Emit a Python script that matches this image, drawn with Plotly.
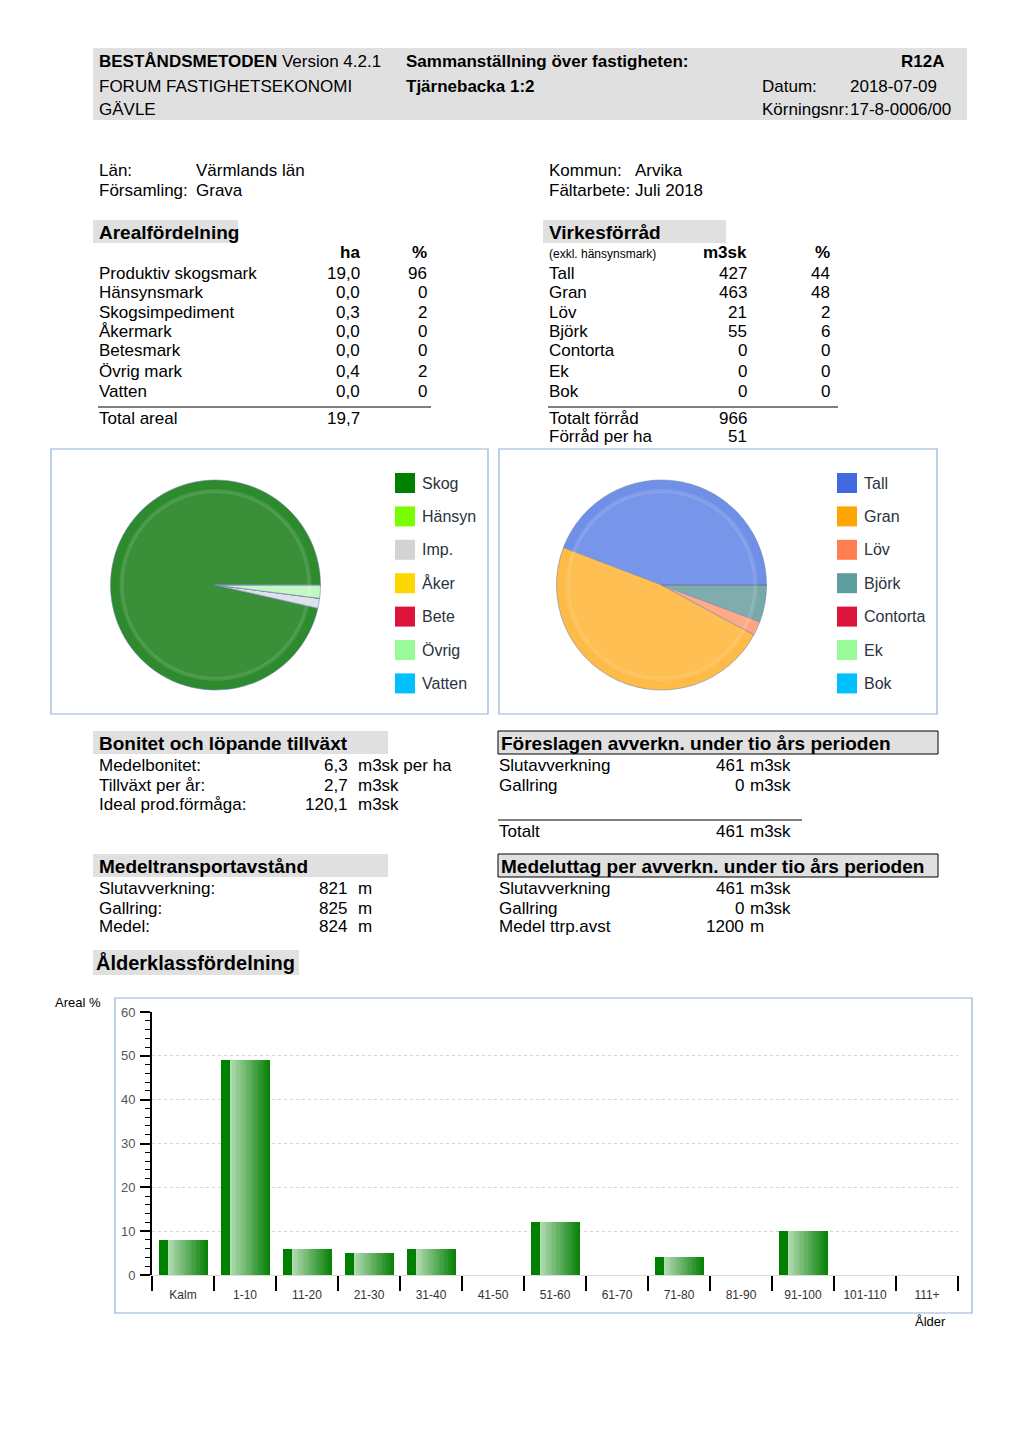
import plotly.graph_objects as go

W, H = 1024, 1448          # reference page size
OFF = 8                    # page body margin
FW, FH = W - OFF, H - OFF  # figure size
FONT = "Liberation Sans, Arial, sans-serif"

# ---------------- data ----------------
areal_labels = ["Produktiv skogsmark", "Hänsynsmark", "Skogsimpediment", "Åkermark",
                "Betesmark", "Övrig mark", "Vatten"]
areal_ha = [19.0, 0.0, 0.3, 0.0, 0.0, 0.4, 0.0]
areal_pct = [96, 0, 2, 0, 0, 2, 0]
areal_total = 19.7

virke_labels = ["Tall", "Gran", "Löv", "Björk", "Contorta", "Ek", "Bok"]
virke_m3sk = [427, 463, 21, 55, 0, 0, 0]
virke_pct = [44, 48, 2, 6, 0, 0, 0]
virke_total = 966
virke_per_ha = 51

pie1_labels = ["Skog", "Hänsyn", "Imp.", "Åker", "Bete", "Övrig", "Vatten"]
pie1_legend_colors = ["#008000", "#7cfc00", "#d3d3d3", "#ffd700", "#dc143c", "#98fb98", "#00bfff"]
pie1_slice_colors = ["#2d8a2d", "#a0fc60", "#dde1e8", "#ffe060", "#e04a66", "#c2f7c2", "#5cd2ff"]

pie2_labels = ["Tall", "Gran", "Löv", "Björk", "Contorta", "Ek", "Bok"]
pie2_legend_colors = ["#4169e1", "#ffa500", "#ff7f50", "#5f9ea0", "#dc143c", "#98fb98", "#00bfff"]
pie2_slice_colors = ["#7090e8", "#ffbb48", "#ffa482", "#78a8a8", "#e04a66", "#c2f7c2", "#5cd2ff"]

bonitet_labels = ["Medelbonitet:", "Tillväxt per år:", "Ideal prod.förmåga:"]
bonitet_values = ["6,3", "2,7", "120,1"]
bonitet_units = ["m3sk per ha", "m3sk", "m3sk"]

transport_labels = ["Slutavverkning:", "Gallring:", "Medel:"]
transport_values = [821, 825, 824]

foreslagen_labels = ["Slutavverkning", "Gallring"]
foreslagen_values = [461, 0]
foreslagen_total = 461

uttag_labels = ["Slutavverkning", "Gallring", "Medel ttrp.avst"]
uttag_values = [461, 0, 1200]
uttag_units = ["m3sk", "m3sk", "m"]

age_classes = ["Kalm", "1-10", "11-20", "21-30", "31-40", "41-50", "51-60",
               "61-70", "71-80", "81-90", "91-100", "101-110", "111+"]
age_pct = [8, 49, 6, 5, 6, 0, 12, 0, 4, 0, 10, 0, 0]
y_ticks = [0, 10, 20, 30, 40, 50, 60]


def fmt(v):
    return f"{v:.1f}".replace(".", ",")


# ---------------- helpers (page pixel -> paper) ----------------
def px(x):
    return (x - OFF) / FW


def py(y):
    return 1 - (y - OFF) / FH


ann = []
shapes = []


def text(x, y, s, anchor="left", size=17, bold=False, color="#000"):
    if bold:
        s = f"<b>{s}</b>"
    ann.append(dict(x=px(x), y=py(y), xref="paper", yref="paper", text=s,
                    showarrow=False, xanchor=anchor, yanchor="middle",
                    borderpad=0, font=dict(size=size, color=color, family=FONT)))


def rect(x0, y0, x1, y1, fill="rgba(0,0,0,0)", line="rgba(0,0,0,0)", lw=1, layer="below"):
    shapes.append(dict(type="rect", xref="paper", yref="paper",
                       x0=px(x0), x1=px(x1), y0=py(y1), y1=py(y0),
                       fillcolor=fill, line=dict(color=line, width=lw), layer=layer))


def circle(cx, cy, r, fill, line="rgba(0,0,0,0)", lw=0):
    shapes.append(dict(type="circle", xref="paper", yref="paper",
                       x0=px(cx - r), x1=px(cx + r), y0=py(cy + r), y1=py(cy - r),
                       fillcolor=fill, line=dict(color=line, width=lw), layer="above"))


def hline(x0, x1, y, color="#000", lw=1):
    shapes.append(dict(type="line", xref="paper", yref="paper",
                       x0=px(x0), x1=px(x1), y0=py(y), y1=py(y),
                       line=dict(color=color, width=lw)))


GRAY = "#e0e0e0"

# ---------------- header ----------------
rect(93, 48, 967, 120, fill=GRAY)
text(98, 62, "<b>BESTÅNDSMETODEN</b> Version 4.2.1")
text(405, 62, "Sammanställning över fastigheten:", bold=True)
text(945, 62, "R12A", anchor="right", bold=True)
text(98, 86, "FORUM FASTIGHETSEKONOMI")
text(405, 86, "Tjärnebacka 1:2", bold=True)
text(761, 86, "Datum:")
text(849, 86, "2018-07-09")
text(98, 110, "GÄVLE")
text(761, 110, "Körningsnr:")
text(849, 110, "17-8-0006/00")

# ---------------- location ----------------
text(98, 170, "Län:")
text(195, 170, "Värmlands län")
text(98, 190, "Församling:")
text(195, 190, "Grava")
text(548, 170, "Kommun:")
text(634, 170, "Arvika")
text(548, 190, "Fältarbete:")
text(634, 190, "Juli 2018")

# ---------------- Arealfördelning ----------------
rect(93, 220, 238, 243, fill=GRAY)
text(98, 232, "Arealfördelning", size=19, bold=True)
text(361, 253, "ha", anchor="right", bold=True)
text(428, 253, "%", anchor="right", bold=True)
row_y = [273, 293, 312, 332, 351, 371, 391]
for i, lab in enumerate(areal_labels):
    text(98, row_y[i], lab)
    text(361, row_y[i], fmt(areal_ha[i]), anchor="right")
    text(428, row_y[i], str(areal_pct[i]), anchor="right")
hline(98, 431, 407)
text(98, 418, "Total areal")
text(361, 418, fmt(areal_total), anchor="right")

# ---------------- Virkesförråd ----------------
rect(543, 220, 726, 243, fill=GRAY)
text(548, 232, "Virkesförråd", size=19, bold=True)
text(548, 254, "(exkl. hänsynsmark)", size=12)
text(748, 253, "m3sk", anchor="right", bold=True)
text(831, 253, "%", anchor="right", bold=True)
for i, lab in enumerate(virke_labels):
    text(548, row_y[i], lab)
    text(748, row_y[i], str(virke_m3sk[i]), anchor="right")
    text(831, row_y[i], str(virke_pct[i]), anchor="right")
hline(548, 838, 407)
text(548, 418, "Totalt förråd")
text(748, 418, str(virke_total), anchor="right")
text(548, 437, "Förråd per ha")
text(748, 437, str(virke_per_ha), anchor="right")

# ---------------- pie panels ----------------
FRAME = "#93b1d9"
rect(51, 449, 488, 714, line=FRAME, lw=1.2, layer="above")
rect(499, 449, 937, 714, line=FRAME, lw=1.2, layer="above")

leg_y = [483 + 33.4 * i for i in range(7)]
for i, lab in enumerate(pie1_labels):
    rect(395, leg_y[i] - 10, 415, leg_y[i] + 10, fill=pie1_legend_colors[i], layer="above")
    text(421, leg_y[i], lab, size=16, color="#2a3340")
for i, lab in enumerate(pie2_labels):
    rect(837, leg_y[i] - 10, 857, leg_y[i] + 10, fill=pie2_legend_colors[i], layer="above")
    text(863, leg_y[i], lab, size=16, color="#2a3340")

PIE_R = 105
pie_centers = [(215.5, 585), (661.5, 585)]


def start_rotation(values):
    # first slice starts at 3 o'clock and slices run counter-clockwise
    return 90 - 360.0 * values[0] / sum(values)


fig = go.Figure()
for (cx, cy), labs, vals, cols in [(pie_centers[0], pie1_labels, areal_ha, pie1_slice_colors),
                                   (pie_centers[1], pie2_labels, virke_m3sk, pie2_slice_colors)]:
    fig.add_trace(go.Pie(labels=labs, values=vals, sort=False,
                         direction="counterclockwise", rotation=start_rotation(vals),
                         marker=dict(colors=cols,
                                     line=dict(color="rgba(110,130,175,0.7)", width=0.8)),
                         textinfo="none", hoverinfo="label+value", showlegend=False,
                         domain=dict(x=[px(cx - PIE_R), px(cx + PIE_R)],
                                     y=[py(cy + PIE_R), py(cy - PIE_R)])))
    # glossy inner highlight
    circle(cx, cy, PIE_R - 11, fill="rgba(255,255,255,0.06)",
           line="rgba(255,255,255,0.12)", lw=4)

# ---------------- bottom tables ----------------
rect(93, 731, 388, 754, fill=GRAY)
text(98, 743, "Bonitet och löpande tillväxt", size=19, bold=True)
for i, y in enumerate([765, 785, 804]):
    text(98, y, bonitet_labels[i])
    text(349, y, bonitet_values[i], anchor="right")
    text(357, y, bonitet_units[i])

rect(498, 731, 938, 754, fill=GRAY, line="#000", lw=1)
text(500, 743, "Föreslagen avverkn. under tio års perioden", size=19, bold=True)
for i, y in enumerate([765, 785]):
    text(498, y, foreslagen_labels[i])
    text(745, y, str(foreslagen_values[i]), anchor="right")
    text(749, y, "m3sk")
hline(498, 802, 820)
text(498, 831, "Totalt")
text(745, 831, str(foreslagen_total), anchor="right")
text(749, 831, "m3sk")

rect(93, 854, 388, 877, fill=GRAY)
text(98, 866, "Medeltransportavstånd", size=19, bold=True)
for i, y in enumerate([888, 908, 927]):
    text(98, y, transport_labels[i])
    text(348, y, str(transport_values[i]), anchor="right")
    text(357, y, "m")

rect(498, 854, 938, 877, fill=GRAY, line="#000", lw=1)
text(500, 866, "Medeluttag per avverkn. under tio års perioden", size=19, bold=True)
for i, y in enumerate([888, 908, 927]):
    text(498, y, uttag_labels[i])
    text(745, y, str(uttag_values[i]), anchor="right")
    text(749, y, uttag_units[i])

rect(93, 950, 299, 975, fill=GRAY)
text(95, 962, "Ålderklassfördelning", size=20, bold=True)

# ---------------- bar chart ----------------
rect(115, 998, 972, 1313, line=FRAME, lw=1.2, layer="above")
text(54, 1002, "Areal %", size=13)
text(914, 1321, "Ålder", size=13)

BAR_L, BAR_R = -0.395, 0.395
DARK_END = -0.25
fig.add_trace(go.Bar(x=age_classes, y=age_pct, width=DARK_END - BAR_L + 0.004, offset=BAR_L,
                     marker=dict(color="#008000", line=dict(width=0)),
                     showlegend=False, hoverinfo="x+y", xaxis="x", yaxis="y"))
N = 16
c0 = (176, 218, 176)
c1 = (12, 132, 12)
sw = (BAR_R - DARK_END) / N
for k in range(N):
    t = k / (N - 1)
    col = tuple(int(round(c0[j] + (c1[j] - c0[j]) * t)) for j in range(3))
    fig.add_trace(go.Bar(x=age_classes, y=age_pct, width=sw + 0.004, offset=DARK_END + k * sw,
                         marker=dict(color="rgb(%d,%d,%d)" % col, line=dict(width=0)),
                         showlegend=False, hoverinfo="skip", xaxis="x", yaxis="y"))

fig.update_layout(
    width=FW, height=FH, autosize=False,
    margin=dict(l=0, r=0, t=0, b=0, pad=0, autoexpand=False),
    paper_bgcolor="white", plot_bgcolor="white",
    barmode="overlay", bargap=0,
    annotations=ann, shapes=shapes,
    font=dict(family=FONT),
    xaxis=dict(domain=[px(152), px(958)], anchor="y", type="category", automargin=False,
               range=[-0.5, len(age_classes) - 0.5],
               showline=True, linecolor="#dcdcdc", linewidth=1,
               ticks="outside", tickson="boundaries", ticklen=15, tickwidth=2,
               tickcolor="#000", showgrid=False, ticklabelstandoff=9,
               tickfont=dict(size=12, color="#333", family=FONT)),
    yaxis=dict(domain=[py(1275), py(1012)], anchor="x", range=[0, 60], automargin=False,
               tickvals=y_ticks, showline=True, linecolor="#000", linewidth=2,
               ticks="outside", ticklen=10, tickwidth=2, tickcolor="#000",
               minor=dict(dtick=2, ticks="outside", ticklen=5, tickcolor="#000", tickwidth=1,
                          showgrid=False),
               showgrid=True, gridcolor="#d4d4d4", griddash="dot", gridwidth=1,
               zeroline=False, ticklabelstandoff=2,
               tickfont=dict(size=13, color="#555", family=FONT)),
)

fig.write_html("out.html")
